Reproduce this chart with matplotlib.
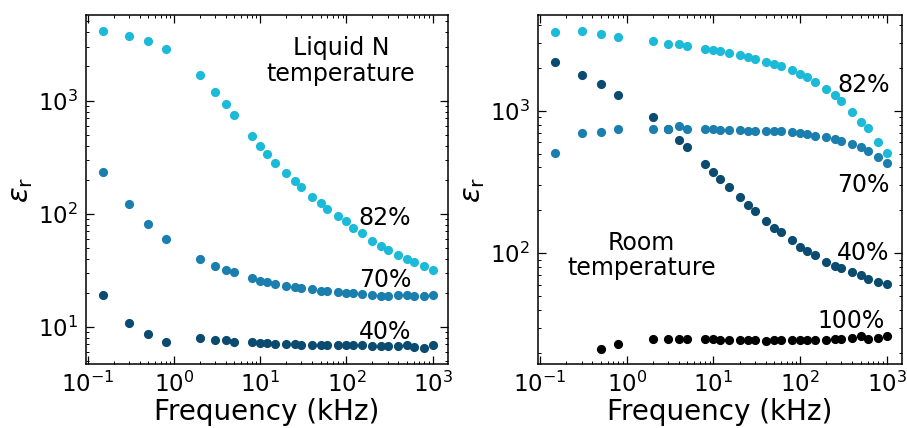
import matplotlib
matplotlib.use("Agg")
import matplotlib.pyplot as plt

freq = [0.15, 0.3, 0.5, 0.8, 2, 3, 4, 5, 8, 10, 12, 15, 20, 25, 30, 40, 50, 60,
        80, 100, 120, 150, 200, 250, 300, 400, 500, 600, 800, 1000]
freq_100 = freq[2:]

# Liquid N temperature
ln_82 = [4120, 3750, 3390, 2880, 1690, 1200, 923, 752, 485, 393, 339, 282, 227, 193,
         171, 141, 124, 111, 95, 85.5, 74.8, 67, 57.4, 51.4, 48, 43.4, 40, 37.2, 34.3, 32.1]
ln_70 = [236, 122, 80.5, 59.8, 39.8, 34.8, 32, 30.4, 26.9, 25.6, 25.1, 24, 23.2, 22.6,
         22.1, 21.5, 20.9, 20.8, 20.4, 20.1, 19.8, 19.6, 19.0, 18.9, 18.9, 19.0, 19.3,
         18.6, 18.8, 19.0]
ln_40 = [19.2, 10.8, 8.6, 7.3, 7.9, 7.7, 7.6, 7.3, 7.3, 7.2, 7.15, 7.1, 7.05, 7.05, 6.95,
         6.9, 6.9, 6.9, 6.85, 6.85, 6.85, 6.85, 6.8, 6.8, 6.75, 6.8, 6.9, 6.7, 6.45, 6.85]

# Room temperature
rt_82 = [3590, 3650, 3460, 3300, 3070, 2960, 2930, 2850, 2730, 2660, 2610, 2560, 2450,
         2380, 2310, 2200, 2130, 2060, 1920, 1800, 1720, 1580, 1410, 1290, 1175, 973,
         837, 752, 606, 505]
rt_70 = [505, 697, 712, 739, 748, 739, 776, 743, 743, 739, 736, 734, 731, 726, 722, 720,
         716, 716, 708, 697, 685, 667, 650, 632, 612, 583, 558, 524, 477, 432]
rt_40 = [2210, 1790, 1540, 1300, 897, 750, 628, 556, 425, 369, 333, 291, 249, 218, 198,
         169, 150, 140, 123, 111, 104, 97.3, 87.3, 81.8, 78.5, 74.3, 70.5, 65.7, 63.1, 60.5]
rt_100 = [21.3, 22.9, 25.0, 24.9, 24.9, 24.9, 24.9, 24.9, 24.7, 24.6, 24.6, 24.6, 24.6,
          24.3, 24.5, 24.6, 24.6, 24.6, 24.6, 24.7, 24.7, 24.9, 25.0, 25.3, 26.4, 24.9,
          25.5, 26.1]

c82 = "#1bbad9"
c70 = "#1a7eae"
c40 = "#0b4b6f"
c100 = "#000000"

fig = plt.figure(figsize=(9.07, 4.28), dpi=100)
axL = fig.add_axes([0.0948, 0.1495, 0.399, 0.8155])
axR = fig.add_axes([0.5935, 0.1495, 0.401, 0.8155])

ms = 6.6
for ax in (axL, axR):
    ax.set_xscale("log")
    ax.set_yscale("log")
    ax.set_xlim(0.095, 1500)
    ax.tick_params(which="major", direction="in", length=6, width=0.9,
                   labelsize=16.5, top=True, right=True)
    ax.tick_params(which="minor", direction="in", length=2.5, width=0.7,
                   top=True, right=True)
    ax.tick_params(axis="x", which="major", pad=5.5)
    ax.tick_params(axis="y", which="major", pad=6)
    for s in ax.spines.values():
        s.set_linewidth(1.1)
    ax.set_xlabel("Frequency (kHz)", fontsize=20, labelpad=0.5)
    ax.set_ylabel(r"$\varepsilon_{\mathrm{r}}$", fontsize=21, labelpad=2)
    ax.set_xticks([0.1, 1, 10, 100, 1000])

axL.plot(freq, ln_40, "o", color=c40, ms=ms, mec="none")
axL.plot(freq, ln_70, "o", color=c70, ms=ms, mec="none")
axL.plot(freq, ln_82, "o", color=c82, ms=ms, mec="none")
axL.set_ylim(4.7, 5700)
axL.set_yticks([10, 100, 1000])

axR.plot(freq_100, rt_100, "o", color=c100, ms=ms, mec="none")
axR.plot(freq, rt_40, "o", color=c40, ms=ms, mec="none")
axR.plot(freq, rt_70, "o", color=c70, ms=ms, mec="none")
axR.plot(freq, rt_82, "o", color=c82, ms=ms, mec="none")
axR.set_ylim(16.7, 4700)
axR.set_yticks([100, 1000])

fs = 17
tL = axL.transAxes
axL.text(0.705, 0.8854, "Liquid N", transform=tL, ha="center", va="baseline", fontsize=fs)
axL.text(0.705, 0.8109, "temperature", transform=tL, ha="center", va="baseline", fontsize=fs)
axL.text(0.826, 0.398, "82%", transform=tL, ha="center", va="baseline", fontsize=fs)
axL.text(0.826, 0.2206, "70%", transform=tL, ha="center", va="baseline", fontsize=fs)
axL.text(0.826, 0.0716, "40%", transform=tL, ha="center", va="baseline", fontsize=fs)

tR = axR.transAxes
axR.text(0.894, 0.7794, "82%", transform=tR, ha="center", va="baseline", fontsize=fs)
axR.text(0.894, 0.4928, "70%", transform=tR, ha="center", va="baseline", fontsize=fs)
axR.text(0.894, 0.298, "40%", transform=tR, ha="center", va="baseline", fontsize=fs)
axR.text(0.861, 0.1032, "100%", transform=tR, ha="center", va="baseline", fontsize=fs)
axR.text(0.283, 0.3266, "Room", transform=tR, ha="center", va="baseline", fontsize=fs)
axR.text(0.283, 0.255, "temperature", transform=tR, ha="center", va="baseline", fontsize=fs)

fig.savefig("out.png", dpi=100)
